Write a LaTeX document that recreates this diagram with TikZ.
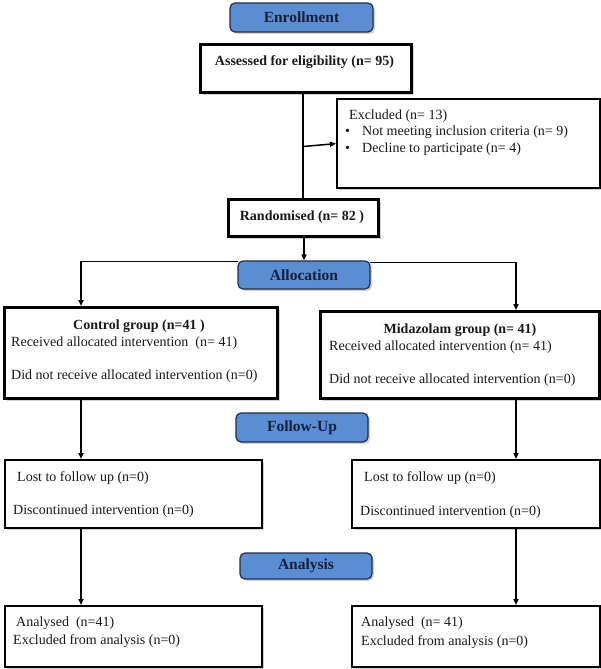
\documentclass[tikz,border=0pt]{standalone}
\usepackage{fontspec}
\setmainfont{Liberation Serif}
\usetikzlibrary{shadows,arrows.meta,calc}
\definecolor{phasefill}{RGB}{91,141,211}
\definecolor{phaseline}{RGB}{30,45,75}
\definecolor{phaseink}{RGB}{22,32,58}
\definecolor{ink}{RGB}{25,25,25}
\begin{document}
\begin{tikzpicture}[x=1pt,y=-1pt,
  shadowed/.style={drop shadow={shadow xshift=2pt,shadow yshift=-2pt,fill=black!35,opacity=.5}},
  heavybox/.style={draw=black,fill=white,line width=3pt,inner sep=0pt,anchor=north west,shadowed},
  midbox/.style={draw=black,fill=white,line width=2.3pt,inner sep=0pt,anchor=north west,shadowed},
  lightbox/.style={draw=black,fill=white,line width=1.8pt,inner sep=0pt,anchor=north west,shadowed},
  phase/.style={draw=phaseline,fill=phasefill,line width=1.2pt,rounded corners=5pt,inner sep=0pt,
    text=phaseink,font=\fontsize{15.5}{18}\selectfont\bfseries,shadowed},
  txt/.style={inner sep=0pt,text=ink,font=\fontsize{14}{16}\selectfont},
  btxt/.style={inner sep=0pt,text=ink,font=\fontsize{14}{16}\selectfont\bfseries},
  conn/.style={draw=black,line width=1.5pt},
  arrow/.style={conn,-{Triangle[length=6pt,width=5pt]}}]
\useasboundingbox (0,0) rectangle (601,669);

% phase labels
\node[phase,minimum width=143pt,minimum height=29pt] (enroll) at (301.5,17.5) {Enrollment};
\node[phase,minimum width=132pt,minimum height=28pt] (alloc) at (304,275) {Allocation};
\node[phase,minimum width=132pt,minimum height=29pt] (follow) at (302,427.5) {Follow-Up};
\node[phase,minimum width=132pt,minimum height=26pt] (analysis) at (306,566) {Analysis};

% boxes
\node[heavybox,minimum width=211pt,minimum height=48pt] (assess) at (199,43) {};
\node[btxt] (assesst) at (304.5,62) {Assessed for eligibility (n= 95)};

\node[midbox,minimum width=263pt,minimum height=89pt] (excl) at (336,98) {};
\node[txt,anchor=west] (exclt) at (349,116) {Excluded (n= 13)};
\node[txt,anchor=west] (exb1) at (345,132.5) {\textbullet};
\node[txt,anchor=west] (ext1) at (362,132.5) {Not meeting inclusion criteria (n= 9)};
\node[txt,anchor=west] (exb2) at (345,149.5) {\textbullet};
\node[txt,anchor=west] (ext2) at (362,149.5) {Decline to participate (n= 4)};

\node[heavybox,minimum width=150pt,minimum height=37pt] (rand) at (227,198) {};
\node[btxt] (randt) at (302,217) {Randomised (n= 82 )};

\node[heavybox,minimum width=273pt,minimum height=91pt] (control) at (3,306) {};
\node[btxt] (controlt) at (139,326) {Control group (n=41 )};
\node[txt,anchor=west] (ct1) at (11,343) {Received allocated intervention ~(n= 41)};
\node[txt,anchor=west] (ct2) at (11,376) {Did not receive allocated intervention (n=0)};

\node[heavybox,minimum width=279pt,minimum height=87pt] (midaz) at (319,310) {};
\node[btxt] (midazt) at (460,330) {Midazolam group (n= 41)};
\node[txt,anchor=west] (mt1) at (329,347) {Received allocated intervention (n= 41)};
\node[txt,anchor=west] (mt2) at (329,380) {Did not receive allocated intervention (n=0)};

\node[lightbox,minimum width=257pt,minimum height=68pt] (lostL) at (4,459) {};
\node[txt,anchor=west] (ll1) at (17,478) {Lost to follow up (n=0)};
\node[txt,anchor=west] (ll2) at (13,511) {Discontinued intervention (n=0)};

\node[lightbox,minimum width=248pt,minimum height=68pt] (lostR) at (351,459) {};
\node[txt,anchor=west] (lr1) at (364,478) {Lost to follow up (n=0)};
\node[txt,anchor=west] (lr2) at (360,512) {Discontinued intervention (n=0)};

\node[lightbox,minimum width=257pt,minimum height=61pt] (anaL) at (4,605) {};
\node[txt,anchor=west] (al1) at (16,623) {Analysed ~(n=41)};
\node[txt,anchor=west] (al2) at (13,641) {Excluded from analysis (n=0)};

\node[lightbox,minimum width=248pt,minimum height=61pt] (anaR) at (351,605) {};
\node[txt,anchor=west] (ar1) at (361,623) {Analysed ~(n= 41)};
\node[txt,anchor=west] (ar2) at (361,642) {Excluded from analysis (n=0)};

% connectors
\coordinate (exfrom) at (303,146.5);
\coordinate (cin) at (81,306);
\coordinate (min) at (516,310);
\draw[conn] (assess.south -| exfrom) -- (rand.north -| exfrom);
\draw[arrow] (exfrom) -- (excl.west);
\draw[arrow] (rand.south -| alloc.north) -- (alloc.north);
\draw[arrow] ($(alloc.north west)+(1,1)$) -| (cin);
\draw[arrow] ($(alloc.north east)+(-1,2)$) -| (min);
\draw[arrow] (cin |- control.south) -- (cin |- lostL.north);
\draw[arrow] (min |- midaz.south) -- (min |- lostR.north);
\draw[arrow] (cin |- lostL.south) -- (cin |- anaL.north);
\draw[arrow] (min |- lostR.south) -- (min |- anaR.north);
\end{tikzpicture}
\end{document}
